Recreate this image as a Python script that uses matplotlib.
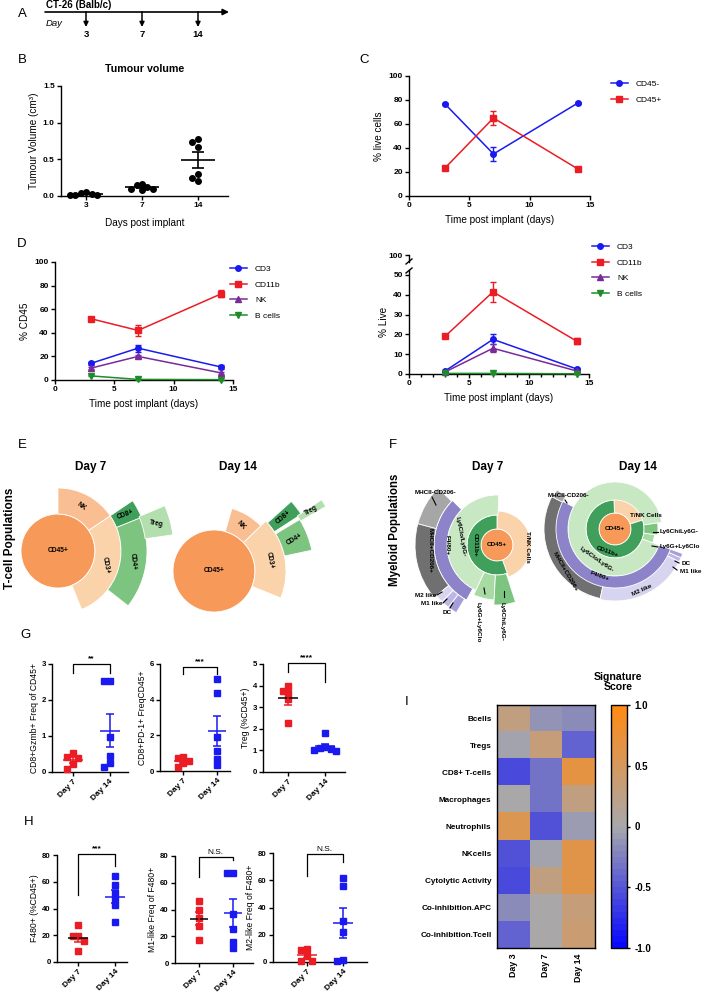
import numpy as np
import matplotlib
matplotlib.use('Agg')
import matplotlib.pyplot as plt
from matplotlib.patches import Wedge
from matplotlib.colors import LinearSegmentedColormap

W, H = 704, 992
plt.rcParams['font.family'] = ['Liberation Sans', 'DejaVu Sans']
plt.rcParams['font.weight'] = 'bold'
plt.rcParams['axes.linewidth'] = 1.0

# ---------------- DATA ----------------
timeline_days = ['3', '7', '14']

tumour_days = ['3', '7', '14']
tumour_day3 = [0.05, 0.03, 0.02, 0.01, 0.02, 0.04]
tumour_day7 = [0.15, 0.16, 0.12, 0.10, 0.08, 0.09]
tumour_day14 = [0.78, 0.73, 0.67, 0.25, 0.21, 0.30]

time_days = [3, 7, 14]
cd45neg_mean = [76.5, 35.0, 77.5]
cd45neg_err = [1.0, 5.5, 1.0]
cd45pos_mean = [23.5, 65.0, 22.5]
cd45pos_err = [1.0, 5.5, 1.0]

cd3_pct_cd45 = [14.0, 27.0, 11.0]
cd3_pct_cd45_err = [1.0, 3.0, 1.5]
cd11b_pct_cd45 = [52.0, 42.0, 73.0]
cd11b_pct_cd45_err = [1.0, 4.5, 3.0]
nk_pct_cd45 = [10.0, 20.0, 6.0]
nk_pct_cd45_err = [1.0, 1.5, 1.0]
bcell_pct_cd45 = [3.5, 0.5, 0.3]
bcell_pct_cd45_err = [0.5, 0.2, 0.1]

cd3_pct_live = [1.5, 17.5, 2.5]
cd3_pct_live_err = [0.3, 2.5, 0.5]
cd11b_pct_live = [19.0, 41.5, 16.5]
cd11b_pct_live_err = [0.8, 5.0, 1.5]
nk_pct_live = [1.0, 13.0, 1.5]
nk_pct_live_err = [0.2, 2.0, 0.3]
bcell_pct_live = [0.3, 0.3, 0.1]
bcell_pct_live_err = [0.1, 0.1, 0.05]

# T-cell sunbursts (angles in degrees, radii in pixels)
tcell_names = ['CD45+', 'CD3+', 'NK', 'CD4+', 'CD8+', 'Treg']
tcell_d7_start = [0, -68, 34, -38, 22, 8]
tcell_d7_end = [360, 34, 90, 22, 34, 23]
tcell_d7_rin = [0, 37, 37, 63, 63, 88]
tcell_d7_rout = [37, 63, 63, 89, 90, 116]
tcell_d14_start = [0, -22, 44, 12, 33, 30]
tcell_d14_end = [360, 44, 74, 31, 42, 33.5]
tcell_d14_rin = [0, 41, 41, 72, 72, 100]
tcell_d14_rout = [41, 72, 65, 100, 104, 129]

# Myeloid sunbursts
myeloid_names = ['CD45+', 'T/NK Cells', 'CD11b+', 'Ly6Clo/Ly6G-', 'Ly6G+Ly6Clo',
                 'Ly6ChiLy6G-', 'F4/80+', 'MHCII-CD206-', 'MHCII+CD206+',
                 'M2 like', 'M1 like', 'DC']
myeloid_d7_start = [0, -70, 90, 88, 245, 267, 135, 136, 165, 220, 226, 232]
myeloid_d7_end = [360, 90, 290, 245, 267, 288, 241, 165, 220, 226, 232, 239]
myeloid_d7_rin = [0, 16, 16, 30, 30, 30, 50, 63, 63, 63, 63, 63]
myeloid_d7_rout = [16, 34, 30, 50, 55, 60, 63, 82, 82, 79, 79, 79]
myeloid_d14_start = [0, 18, 92, 8, 340, 352, 152, 146, 153, 258, 333, 336.5]
myeloid_d14_end = [360, 92, 378, 340, 352, 368, 340, 153, 258, 333, 336.5, 340]
myeloid_d14_rin = [0, 16, 16, 29, 29, 29, 47, 59, 59, 59, 59, 59]
myeloid_d14_rout = [16, 30, 29, 47, 40, 43, 60, 70, 71, 72, 72, 72]

group_labels = ['Day 7', 'Day 14']
gzmb_d7 = [0.52, 0.42, 0.40, 0.22, 0.08]
gzmb_d14 = [2.54, 2.54, 0.97, 0.45, 0.25, 0.14]
pd1_d7 = [0.80, 0.75, 0.55, 0.45, 0.25]
pd1_d14 = [5.15, 4.40, 1.90, 1.10, 0.65, 0.35]
treg_d7 = [3.98, 3.76, 3.67, 3.36, 2.29]
treg_d14 = [1.82, 1.15, 1.05, 1.00, 0.98, 1.10]
f480_d7 = [27.3, 19.1, 19.1, 15.4, 8.0]
f480_d14 = [64.6, 57.6, 51.4, 47.0, 42.7, 29.6]
m1_d7 = [46.0, 39.5, 34.0, 28.0, 17.4]
m1_d14 = [67.6, 67.6, 36.5, 25.3, 15.4, 11.4]
m2_d7 = [9.5, 8.5, 4.5, 1.0, 1.0]
m2_d14 = [62.0, 56.0, 30.0, 21.7, 1.2, 0.5]

sig_rows = ['Bcells', 'Tregs', 'CD8+ T-cells', 'Macrophages', 'Neutrophils', 'NKcells',
            'Cytolytic Activity', 'Co-inhibition.APC', 'Co-inhibition.Tcell']
sig_cols = ['Day 3', 'Day 7', 'Day 14']
sig_day3 = [0.28, -0.05, -0.58, 0.00, 0.55, -0.52, -0.60, -0.20, -0.45]
sig_day7 = [-0.12, 0.30, -0.35, -0.35, -0.55, -0.05, 0.28, 0.00, 0.00]
sig_day14 = [-0.18, -0.42, 0.65, 0.25, -0.10, 0.60, 0.62, 0.30, 0.38]

# ---------------- STYLE ----------------
RED = '#EC1C24'
BLUE = '#1A1AF0'
PURPLE = '#7A2A9A'
GREEN = '#1E8C2A'
TICK_FS = 6.0
LAB_FS = 7.2

sun_colors = {
    'CD45+': '#F79A59', 'CD3+': '#FBD3AA', 'NK': '#F9BE91', 'CD4+': '#7CC47F',
    'CD8+': '#3F9F5B', 'Treg': '#B3DEAE', 'T/NK Cells': '#FBD3AA', 'CD11b+': '#3F9F5B',
    'Ly6Clo/Ly6G-': '#C7E8C2', 'Ly6G+Ly6Clo': '#A8DAA4', 'Ly6ChiLy6G-': '#7CC47F',
    'F4/80+': '#8C83C9', 'MHCII-CD206-': '#A6A6A6', 'MHCII+CD206+': '#707070',
    'M2 like': '#D6D4EE', 'M1 like': '#BDB7E3', 'DC': '#A69ED8'}

fig = plt.figure(figsize=(W / 100, H / 100), dpi=100)
fig.patch.set_facecolor('white')


def ax_px(l, t, r, b):
    return fig.add_axes([l / W, 1 - b / H, (r - l) / W, (b - t) / H])


def ftext(x, y, s, **kw):
    return fig.text(x / W, 1 - y / H, s, **kw)


def clean(ax, fs=TICK_FS):
    for s in ['top', 'right']:
        ax.spines[s].set_visible(False)
    ax.tick_params(labelsize=fs, length=3, width=1, pad=1.5)


def swarm_offsets(vals, ax_h_px, ylim, unit_px_x, size_px=5.5):
    ppu = ax_h_px / (ylim[1] - ylim[0])
    ys = np.asarray(vals, dtype=float) * ppu
    order = np.argsort(-ys, kind='stable')
    placed = []
    offs = np.zeros(len(ys))
    for i in order:
        x = 0.0
        for c in [0, -1, 1, -2, 2, -3, 3]:
            x = c * size_px
            if all((x - px) ** 2 + (ys[i] - py) ** 2 >= (size_px * 0.95) ** 2 for px, py in placed):
                break
        placed.append((x, ys[i]))
        offs[i] = x / unit_px_x
    return offs


# ---------------- Panel letters ----------------
for letter, x, y in [('A', 22, 14), ('B', 22, 60), ('C', 364, 60), ('D', 22, 244),
                     ('E', 22, 445), ('F', 393, 445), ('G', 25, 635), ('H', 29, 822),
                     ('I', 407, 702)]:
    ftext(x, y, letter, fontsize=9.5, fontweight='normal', ha='center', va='center')

# ---------------- Panel B ----------------
axb = ax_px(61, 86, 228, 196)
clean(axb)
for i, vals in enumerate([tumour_day3, tumour_day7, tumour_day14]):
    v = np.array(vals)
    off = swarm_offsets(v, 110, (0, 1.5), 56, 5.5)
    axb.plot(i + off, v, 'o', color='black', ms=4, clip_on=False, zorder=3)
    m = v.mean()
    s = v.std(ddof=1) / np.sqrt(len(v))
    axb.hlines(m, i - 0.3, i + 0.3, color='black', lw=1.2, zorder=4)
    axb.errorbar(i, m, yerr=s, fmt='none', ecolor='black', capsize=4, elinewidth=1.2,
                 capthick=1.2, zorder=4)
axb.set_xlim(-0.45, 2.54)
axb.set_ylim(0, 1.5)
axb.set_xticks(range(3))
axb.set_xticklabels(tumour_days)
axb.set_yticks([0, 0.5, 1.0, 1.5])
axb.yaxis.set_major_formatter('{x:.1f}')
axb.set_xlabel('Days post implant', fontsize=LAB_FS, labelpad=6)
axb.set_ylabel('Tumour Volume (cm³)', fontsize=LAB_FS, fontweight='normal', labelpad=3)
ftext(145, 69, 'Tumour volume', fontsize=7.7, ha='center', va='center')


# ---------------- line-plot helper ----------------
def series(ax, x, m, e, color, marker, label):
    h, = ax.plot(x, m, color=color, marker=marker, ms=4, lw=1.1, label=label,
                 clip_on=False, zorder=3)
    ax.errorbar(x, m, yerr=e, fmt='none', ecolor=color, capsize=2, elinewidth=1,
                capthick=1, zorder=3, clip_on=False)
    return h


def legend_at(ax, handles, x, y):
    ax.legend(handles=handles, loc='upper left', bbox_to_anchor=(x / W, 1 - y / H),
              bbox_transform=fig.transFigure, frameon=False,
              prop={'size': 6.0, 'weight': 'normal'}, handlelength=2.0,
              handletextpad=1.0, labelspacing=0.95, borderaxespad=0, borderpad=0)


# ---------------- Panel C ----------------
axc = ax_px(409, 76, 590, 196)
clean(axc)
h1 = series(axc, time_days, cd45neg_mean, cd45neg_err, BLUE, 'o', 'CD45-')
h2 = series(axc, time_days, cd45pos_mean, cd45pos_err, RED, 's', 'CD45+')
axc.set_xlim(0, 15)
axc.set_ylim(0, 100)
axc.set_xticks([0, 5, 10, 15])
axc.set_yticks(range(0, 101, 20))
axc.set_xlabel('Time post implant (days)', fontsize=LAB_FS, labelpad=4)
axc.set_ylabel('% live cells', fontsize=LAB_FS, labelpad=3)
legend_at(axc, [h1, h2], 611, 80)

# ---------------- Panel D left ----------------
axd = ax_px(55, 262, 233, 380)
clean(axd)
hd = [series(axd, time_days, cd3_pct_cd45, cd3_pct_cd45_err, BLUE, 'o', 'CD3'),
      series(axd, time_days, cd11b_pct_cd45, cd11b_pct_cd45_err, RED, 's', 'CD11b'),
      series(axd, time_days, nk_pct_cd45, nk_pct_cd45_err, PURPLE, '^', 'NK'),
      series(axd, time_days, bcell_pct_cd45, bcell_pct_cd45_err, GREEN, 'v', 'B cells')]
axd.set_xlim(0, 15)
axd.set_ylim(0, 100)
axd.set_xticks([0, 5, 10, 15])
axd.set_yticks(range(0, 101, 20))
axd.set_xlabel('Time post implant (days)', fontsize=LAB_FS, labelpad=4)
axd.set_ylabel('% CD45', fontsize=LAB_FS, labelpad=3)
legend_at(axd, hd, 230, 265)

# ---------------- Panel D right (broken axis) ----------------
axd2 = ax_px(409, 270, 589, 374)
clean(axd2)
hd2 = [series(axd2, time_days, cd3_pct_live, cd3_pct_live_err, BLUE, 'o', 'CD3'),
       series(axd2, time_days, cd11b_pct_live, cd11b_pct_live_err, RED, 's', 'CD11b'),
       series(axd2, time_days, nk_pct_live, nk_pct_live_err, PURPLE, '^', 'NK'),
       series(axd2, time_days, bcell_pct_live, bcell_pct_live_err, GREEN, 'v', 'B cells')]
axd2.set_xlim(0, 15)
axd2.set_ylim(0, (374 - 270) / 1.98)
axd2.set_xticks([0, 5, 10, 15])
axd2.set_xticks(range(0, 16), minor=True)
axd2.tick_params(which='minor', length=2, width=1)
axd2.set_yticks(range(0, 51, 10))
axd2.set_xlabel('Time post implant (days)', fontsize=LAB_FS, labelpad=4)
axd2.set_ylabel('% Live', fontsize=LAB_FS, labelpad=3)
legend_at(axd2, hd2, 592, 243)
axd2b = ax_px(409, 255, 589, 262)
axd2b.set_facecolor('none')
for s in ['top', 'right', 'bottom']:
    axd2b.spines[s].set_visible(False)
axd2b.set_ylim(96.5, 100)
axd2b.set_yticks([100])
axd2b.set_xticks([])
axd2b.tick_params(labelsize=TICK_FS, length=3, width=1, pad=1.5)

# ---------------- Panel E & F sunbursts ----------------
def sunburst(cx, cy, R, names, t1, t2, rin, rout):
    ax = ax_px(cx - R, cy - R, cx + R, cy + R)
    ax.set_xlim(-R, R)
    ax.set_ylim(-R, R)
    ax.axis('off')
    for n, a, b, r0, r1 in zip(names, t1, t2, rin, rout):
        width = None if r0 == 0 else r1 - r0
        ax.add_patch(Wedge((0, 0), r1, a, b, width=width, facecolor=sun_colors[n],
                           edgecolor='white', lw=0.6))
    return ax


def mid_label(ax, names, t1, t2, rin, rout, rots, fs=4.8):
    for n, a, b, r0, r1, rot in zip(names, t1, t2, rin, rout, rots):
        ang = np.deg2rad((a + b) / 2) if r0 > 0 else 0
        rr = (r0 + r1) / 2 if r0 > 0 else 0
        ax.text(rr * np.cos(ang), rr * np.sin(ang), n, rotation=rot, ha='center',
                va='center', fontsize=fs, rotation_mode='anchor')


ae7 = sunburst(58, 551, 140, tcell_names, tcell_d7_start, tcell_d7_end, tcell_d7_rin, tcell_d7_rout)
mid_label(ae7, tcell_names, tcell_d7_start, tcell_d7_end, tcell_d7_rin, tcell_d7_rout,
          [0, -80, -35, -85, 20, -10])
ae14 = sunburst(214, 571, 140, tcell_names, tcell_d14_start, tcell_d14_end, tcell_d14_rin, tcell_d14_rout)
mid_label(ae14, tcell_names, tcell_d14_start, tcell_d14_end, tcell_d14_rin, tcell_d14_rout,
          [0, -80, -45, 30, 40, 30])
ftext(91, 467, 'Day 7', fontsize=8.5, ha='center', va='center')
ftext(238, 467, 'Day 14', fontsize=8.5, ha='center', va='center')
ftext(10, 538, 'T-cell Populations', fontsize=8.5, rotation=90, ha='center', va='center')

af7 = sunburst(497, 545, 100, myeloid_names, myeloid_d7_start, myeloid_d7_end,
               myeloid_d7_rin, myeloid_d7_rout)
af14 = sunburst(615, 529, 100, myeloid_names, myeloid_d14_start, myeloid_d14_end,
                myeloid_d14_rin, myeloid_d14_rout)
FS = 4.6
for txt, dx, dy, rot in [('CD45+', 0, 0, 0), ('CD11b+', -22, 0, -90),
                         ('Ly6Clo/Ly6G-', -36, 8, -80), ('F4/80+', -50, 0, -90),
                         ('MHCII+CD206+', -67, -5, -90), ('T/NK Cells', 30, -2, -90)]:
    af7.text(dx, dy, txt, rotation=rot, ha='center', va='center', fontsize=FS, rotation_mode='anchor')
for txt, dx, dy, ha, lx, ly in [('MHCII-CD206-', -62, 52, 'center', [-65, -61], [48, 40]),
                                ('M2 like', -61, -51, 'right', [-60, -55], [-50, -47]),
                                ('M1 like', -55, -59, 'right', [-54, -50], [-58, -54]),
                                ('DC', -50, -68, 'center', [-47, -44], [-63, -58])]:
    af7.text(dx, dy, txt, ha=ha, va='center', fontsize=FS)
    af7.plot(lx, ly, color='black', lw=0.8, clip_on=False)
for txt, dx, lx, ly in [('Ly6G+Ly6Clo', -19, [-13, -12], [-43, -49]),
                        ('Ly6ChiLy6G-', 5, [7, 7], [-46, -52])]:
    af7.text(dx, -57, txt, rotation=-90, ha='center', va='top', fontsize=FS)
    af7.plot(lx, ly, color='black', lw=0.8, clip_on=False)
for txt, dx, dy, rot in [('CD45+', 0, 0, 0), ('CD11b+', -8, -23, -20),
                         ('Ly6Clo/Ly6G-', -18, -31, -35), ('F4/80+', -15, -47, -20),
                         ('MHCII+CD206+', -50, -43, -60), ('M2 like', 27, -61, 25),
                         ('T/NK Cells', 31, 13, 0)]:
    af14.text(dx, dy, txt, rotation=rot, ha='center', va='center', fontsize=FS, rotation_mode='anchor')
for txt, dx, dy, ha, lx, ly in [('MHCII-CD206-', -47, 33, 'center', [-50, -48], [29, 26]),
                                ('Ly6ChiLy6G-', 45, -3, 'left', [38, 43], [-3, -3]),
                                ('Ly6G+Ly6Clo', 45, -18, 'left', [37, 43], [-17, -18]),
                                ('DC', 67, -35, 'left', [60, 64], [-32, -34]),
                                ('M1 like', 65, -43, 'left', [58, 62], [-38, -41])]:
    af14.text(dx, dy, txt, ha=ha, va='center', fontsize=FS)
    af14.plot(lx, ly, color='black', lw=0.8, clip_on=False)
ftext(488, 467, 'Day 7', fontsize=8.5, ha='center', va='center')
ftext(638, 467, 'Day 14', fontsize=8.5, ha='center', va='center')
ftext(395, 530, 'Myeloid Populations', fontsize=8.3, rotation=90, ha='center', va='center')


# ---------------- Panels G & H dot plots ----------------
def dotplot(box, d7, d14, ylim, yticks, ylabel, br, sig, xlim, d7_mean_color):
    l, t, r, b = box
    ax = ax_px(l, t, r, b)
    clean(ax, 5.6)
    unit_px = (r - l) / (xlim[1] - xlim[0])
    for i, (vals, c) in enumerate([(d7, RED), (d14, BLUE)]):
        v = np.array(vals, dtype=float)
        off = swarm_offsets(v, b - t, ylim, unit_px, 5.5)
        ax.plot(i + off, v, 's', color=c, ms=4, clip_on=False, zorder=3)
        m = v.mean()
        s = v.std(ddof=1) / np.sqrt(len(v))
        ax.hlines(m, i - 0.27, i + 0.27, color=c if i else d7_mean_color, lw=1.1, zorder=4)
        ax.errorbar(i, m, yerr=s, fmt='none', ecolor=c, capsize=2.8, elinewidth=1.1,
                    capthick=1.1, zorder=4)
    ax.plot([0, 0, 1, 1], [br[1], br[0], br[0], br[2]], color='black', lw=0.9, clip_on=False)
    ax.text(0.5, br[0] + (ylim[1] - ylim[0]) * 0.015, sig, ha='center', va='bottom',
            fontsize=6, fontweight='bold' if '*' in sig else 'normal')
    ax.set_xlim(*xlim)
    ax.set_ylim(*ylim)
    ax.set_yticks(yticks)
    ax.set_xticks([0, 1])
    ax.set_xticklabels(group_labels, rotation=45, ha='right', rotation_mode='anchor')
    ax.tick_params(axis='x', labelsize=6.0)
    ax.set_ylabel(ylabel, fontsize=6.2, labelpad=2)
    return ax


dotplot((52, 664, 128, 772), gzmb_d7, gzmb_d14, (0, 3), [0, 1, 2, 3],
        'CD8+Gzmb+ Freq of CD45+', (3.0, 2.75, 2.75), '**', (-0.57, 1.5), RED)
dotplot((160, 664, 230, 771), pd1_d7, pd1_d14, (0, 6), [0, 2, 4, 6],
        'CD8+PD-1+ FreqCD45+', (5.85, 5.45, 5.45), '***', (-0.68, 1.38), RED)
dotplot((263, 664, 345, 772), treg_d7, treg_d14, (0, 5), [0, 1, 2, 3, 4, 5],
        'Treg (%CD45+)', (5.06, 4.64, 4.18), '****', (-0.68, 1.54), 'black')
dotplot((57, 855, 127, 962), f480_d7, f480_d14, (0, 80), [0, 20, 40, 60, 80],
        'F480+ (%CD45+)', (80.5, 50, 72), '***', (-0.57, 1.32), 'black')
dotplot((175, 856, 253, 963), m1_d7, m1_d14, (0, 80), [0, 20, 40, 60, 80],
        'M1-like Freq of F480+', (79, 64, 77), 'N.S.', (-0.7, 1.59), 'black')
dotplot((273, 853, 367, 962), m2_d7, m2_d14, (0, 80), [0, 20, 40, 60, 80],
        'M2-like Freq of F480+', (79, 63, 73.5), 'N.S.', (-0.94, 1.67), RED)

# ---------------- Panel I heatmap ----------------
sig_scores = np.array([sig_day3, sig_day7, sig_day14]).T
sig_cmap = LinearSegmentedColormap.from_list('sig', ['#0808FF', '#A8A8AC', '#FF8A14'], N=40)
axh = ax_px(497, 705, 595, 948)
im = axh.imshow(sig_scores, cmap=sig_cmap, vmin=-1, vmax=1, aspect='auto', interpolation='nearest')
axh.set_yticks(range(len(sig_rows)))
axh.set_yticklabels(sig_rows, fontsize=5.9)
axh.set_xticks(range(len(sig_cols)))
axh.set_xticklabels(sig_cols, rotation=90, fontsize=6.4)
axh.tick_params(length=0, pad=4)
for s in axh.spines.values():
    s.set_linewidth(1)
cax = ax_px(611, 705, 627, 948)
cb = fig.colorbar(im, cax=cax, ticks=[-1, -0.5, 0, 0.5, 1])
cb.ax.set_yticklabels(['-1.0', '-0.5', '0', '0.5', '1.0'], fontsize=7)
cb.ax.tick_params(length=2, width=1)
cb.outline.set_linewidth(1)
ftext(618, 682, 'Signature\nScore', fontsize=7.6, ha='center', va='center', linespacing=1.1)

# ---------------- overlay: panel A timeline and axis-break marks ----------------
ov = fig.add_axes([0, 0, 1, 1])
ov.set_xlim(0, W)
ov.set_ylim(H, 0)
ov.axis('off')
ov.annotate('', xy=(229, 12), xytext=(45, 12),
            arrowprops=dict(arrowstyle='-|>', lw=1.2, color='black', mutation_scale=9,
                            shrinkA=0, shrinkB=0))
ov.text(46, 5.5, 'CT-26 (Balb/c)', fontsize=7, ha='left', va='center')
ov.text(46, 23, 'Day', fontsize=6.8, ha='left', va='center', style='italic', fontweight='normal')
for i, d in enumerate(timeline_days):
    xa = 86 + 56 * i
    ov.annotate('', xy=(xa, 27), xytext=(xa, 12),
                arrowprops=dict(arrowstyle='-|>', lw=1.1, color='black', mutation_scale=7,
                                shrinkA=0, shrinkB=0))
    ov.text(xa, 34.5, d, fontsize=6.8, ha='center', va='center')
ov.plot([406, 412], [264, 259], color='black', lw=1)
ov.plot([406, 412], [273, 268], color='black', lw=1)

fig.savefig('out.png', dpi=100, facecolor='white')
